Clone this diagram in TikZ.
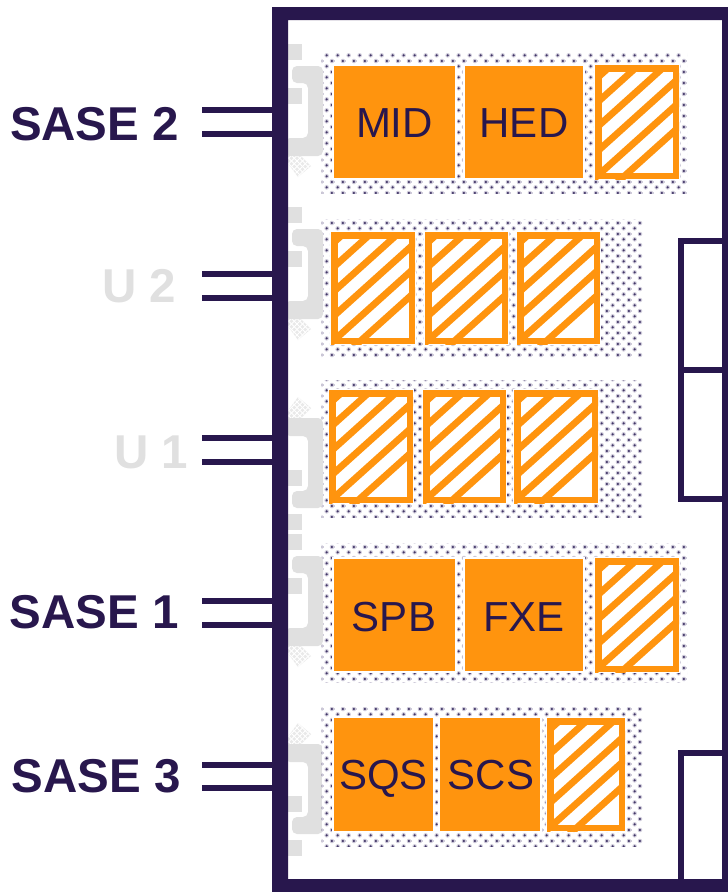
\documentclass[tikz,border=0pt]{standalone}
\usepackage{fontspec}
\usetikzlibrary{patterns}
\setmainfont{Liberation Sans}
\definecolor{navy}{HTML}{28174D}
\definecolor{orng}{HTML}{FF940E}
\definecolor{gry}{HTML}{E0E0E0}
\definecolor{tilegray}{HTML}{E9E9E9}
\definecolor{dotc}{HTML}{423768}
\definecolor{dothalo}{HTML}{CFCBDA}
\pgfdeclarepatterninherentlycolored{banddots}{\pgfpointorigin}{\pgfqpoint{10.8pt}{10.8pt}}{\pgfqpoint{10.8pt}{10.8pt}}{%
  \pgfsetfillcolor{dothalo}
  \pgfpathcircle{\pgfqpoint{2.7pt}{2.7pt}}{2.3pt}
  \pgfpathcircle{\pgfqpoint{8.1pt}{8.1pt}}{2.3pt}
  \pgfusepath{fill}
  \pgfsetfillcolor{dotc}
  \pgfpathcircle{\pgfqpoint{2.7pt}{2.7pt}}{1.25pt}
  \pgfpathcircle{\pgfqpoint{8.1pt}{8.1pt}}{1.25pt}
  \pgfusepath{fill}
}
\tikzset{
  beam/.style={navy,line width=5.6pt},
  frameline/.style={navy,line width=6.2pt},
  solid box/.style={fill=orng,draw=white,line width=1.2pt},
  hatch line/.style={orng,line width=6.8pt},
  hatch frame/.style={orng,line width=6.5pt},
  big label/.style={anchor=base,inner sep=0pt,font=\fontsize{47.5}{50}\selectfont\bfseries},
  inst label/.style={anchor=base,inner sep=0pt,text=navy,font=\fontsize{42}{44}\selectfont},
  gray part/.style={fill=gry,draw=none},
}
\newcommand{\dotband}[4]{%
  \fill[white] (#1,#2) rectangle (#3,#4);
  \fill[pattern=banddots] (#1,#2) rectangle (#3,#4);}
\newcommand{\hatchbox}[4]{%
  \fill[white] (#1-1,#2-1) rectangle (#3+1,#4+1);
  \begin{scope}
    \clip (#1,#2) rectangle (#3,#4);
    \foreach \k in {-1,...,9} {
      \draw[hatch line] (#1-5,#4-1+4.5-\k*24.5) -- ++(150,-135);
    }
  \end{scope}
  \draw[hatch frame] (#1+3.25,#2+3.25) rectangle (#3-3.25,#4-3.25);}
\newcommand{\bracketparts}{%
  \fill[gray part] (285,44) rectangle (302,60);
  \fill[gray part] (285,88) rectangle (302,104);
  \fill[tilegray] (282,155) -- (300,155) -- (311,166) -- (298,177) -- cycle;
  \begin{scope}
    \clip (282,155) -- (300,155) -- (311,166) -- (298,177) -- cycle;
    \foreach \k in {-5,...,5} {
      \draw[white,line width=0.9pt] (297+\k*5.5,150) -- ++(35,35);
      \draw[white,line width=0.9pt] (297+\k*5.5,150) -- ++(-35,35);
    }
  \end{scope}
  \fill[gray part,rounded corners=5pt] (292,66) -- (323,66) -- (323,156) -- (285,156) -- (285,138) -- (308,138) -- (308,83) -- (292,83) -- cycle;}
\begin{document}
\begin{tikzpicture}[x=1pt,y=-1pt]
\useasboundingbox (0,0) rectangle (728,892);
\fill[white] (0,0) rectangle (728,892);

% row 5 bracket lies beneath the band
\begin{scope}[shift={(0,900)},yscale=-1]\bracketparts\end{scope}

\dotband{321.5}{53}{687}{193}
\dotband{321.5}{219}{642}{357}
\dotband{321.5}{380}{642}{517}
\dotband{321.5}{543}{687}{682}
\dotband{321.5}{707}{642}{846}

% brackets
\begin{scope}[yshift=0pt]\bracketparts\end{scope}
\begin{scope}[shift={(0,163)}]\bracketparts\end{scope}
\begin{scope}[shift={(0,574)},yscale=-1]\bracketparts\end{scope}
\begin{scope}[shift={(0,490)}]\bracketparts\end{scope}

% row 1
\fill[solid box] (333,65) rectangle (456,179);
\fill[solid box] (464,65) rectangle (584,179);
\hatchbox{595}{65}{679}{179}
% row 2
\hatchbox{331}{232}{415}{344}
\hatchbox{425}{232}{508}{344}
\hatchbox{517}{232}{600}{344}
% row 3
\hatchbox{329}{390}{413}{503}
\hatchbox{423}{390}{506}{503}
\hatchbox{514}{390}{598}{503}
% row 4
\fill[solid box] (333,558) rectangle (456,672);
\fill[solid box] (464,558) rectangle (584,672);
\hatchbox{595}{558}{679}{672}
% row 5
\fill[solid box] (333,717) rectangle (434,832);
\fill[solid box] (439,717) rectangle (541,832);
\hatchbox{547}{718}{625}{831}

% outer frame
\fill[navy,even odd rule] (272,7) rectangle (728,892) (288,20) rectangle (722,879);
% side boxes
\draw[frameline] (722,241) -- (681,241) -- (681,499) -- (722,499);
\draw[frameline] (681,370) -- (722,370);
\draw[frameline] (722,753) -- (681,753) -- (681,879);

% beam lines
\coordinate (b1a) at (202,110); \coordinate (b1b) at (272,110);
\coordinate (b2a) at (202,134); \coordinate (b2b) at (272,134);
\coordinate (b3a) at (202,274); \coordinate (b3b) at (272,274);
\coordinate (b4a) at (202,298); \coordinate (b4b) at (272,298);
\coordinate (b5a) at (202,438); \coordinate (b5b) at (272,438);
\coordinate (b6a) at (202,462); \coordinate (b6b) at (272,462);
\coordinate (b7a) at (202,601); \coordinate (b7b) at (272,601);
\coordinate (b8a) at (202,625); \coordinate (b8b) at (272,625);
\coordinate (b9a) at (202,765); \coordinate (b9b) at (272,765);
\coordinate (b10a) at (202,788); \coordinate (b10b) at (272,788);
\foreach \n in {1,...,10} \draw[beam] (b\n a) -- (b\n b);

% labels
\node[big label,text=navy] (s2) at (94.5,140) {SASE 2};
\node[big label,text=gry] (u2) at (139,302) {U 2};
\node[big label,text=gry] (u1) at (151,468) {U 1};
\node[big label,text=navy] (s1) at (94,628) {SASE 1};
\node[big label,text=navy] (s3) at (96,792) {SASE 3};
\node[inst label] (mid) at (394.5,137) {MID};
\node[inst label] (hed) at (524,137) {HED};
\node[inst label] (spb) at (394,631) {SPB};
\node[inst label] (fxe) at (524,631) {FXE};
\node[inst label] (sqs) at (383.5,789) {SQS};
\node[inst label] (scs) at (491,789) {SCS};
\end{tikzpicture}
\end{document}
